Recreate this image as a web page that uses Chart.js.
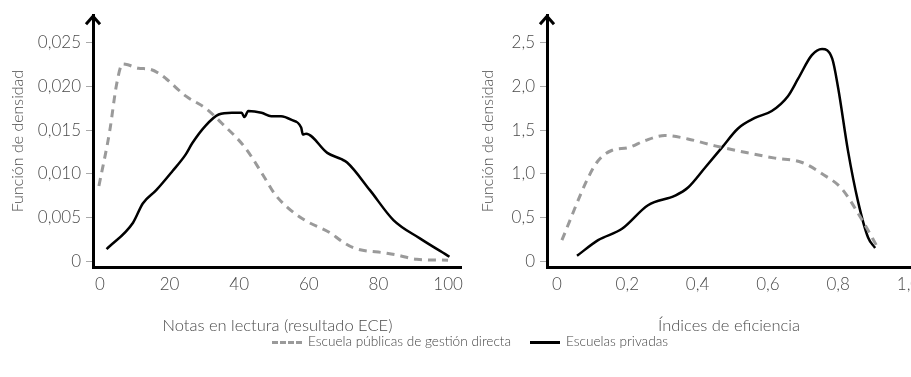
<!DOCTYPE html>
<html>
<head>
<meta charset="utf-8">
<script src="https://cdn.jsdelivr.net/npm/chart.js@4"></script>
<style>
  html, body { margin: 0; padding: 0; background: #fff; overflow: hidden; }
  body { width: 911px; height: 377px; position: relative; font-family: Lato, "Open Sans", sans-serif; font-weight: 300; color: #444; }
  #izq { position: absolute; left: 0; top: 0; }
  #der { position: absolute; left: 470px; top: 0; }
  .leyenda { position: absolute; top: 332px; font-size: 13.6px; line-height: 18px; white-space: nowrap; }
  .muestra { display: inline-block; width: 30px; vertical-align: middle; margin-right: 6px; }
</style>
</head>
<body>
<canvas id="izq" width="470" height="340"></canvas>
<canvas id="der" width="470" height="340"></canvas>
<div class="leyenda" style="left:272px"><span class="muestra" style="border-top:3px dashed #9a9a9a"></span>Escuela públicas de gestión directa</div>
<div class="leyenda" style="left:530px"><span class="muestra" style="border-top:3px solid #000"></span>Escuelas privadas</div>
<script>
'use strict';

// Notas en lectura (resultado ECE)
const lecturaPublicasX = [-0.3, 2.8, 4.8, 6.5, 8, 11, 14.2, 17, 19, 24.7, 30.4, 35, 41.7, 47.4, 50.2, 54, 58.8, 66.3, 69, 73, 82.4, 85.2, 91, 100];
const lecturaPublicasY = [0.0086, 0.0149, 0.0203, 0.0226, 0.0225, 0.0221, 0.0220, 0.0215, 0.0209, 0.0189, 0.0175, 0.0158, 0.0130, 0.0095, 0.0077, 0.0061, 0.0047, 0.0032, 0.0024, 0.0015, 0.0009, 0.0007, 0.0002, 0.0001];
const lecturaPrivadasX = [1.9, 9.5, 12.3, 16.1, 20.8, 24.6, 26.5, 30.3, 34.1, 37.9, 40.7, 41.5, 42.6, 46.4, 49.2, 52, 54.9, 57.8, 58.3, 59.2, 65.3, 69.2, 71, 77.6, 84.3, 91.9, 100.4];
const lecturaPrivadasY = [0.00136, 0.0044, 0.0066, 0.0081, 0.0103, 0.0122, 0.0135, 0.0155, 0.0168, 0.0170, 0.0170, 0.0165, 0.0172, 0.0170, 0.0166, 0.0166, 0.0162, 0.0153, 0.0145, 0.0146, 0.0124, 0.0117, 0.0113, 0.0081, 0.0047, 0.0026, 0.0005];

// Índices de eficiencia
const eficienciaPublicasX = [0.014, 0.088, 0.117, 0.157, 0.203, 0.25, 0.307, 0.372, 0.45, 0.543, 0.62, 0.697, 0.754, 0.81, 0.868, 0.913];
const eficienciaPublicasY = [0.24, 0.95, 1.15, 1.27, 1.30, 1.38, 1.44, 1.40, 1.32, 1.24, 1.18, 1.13, 1.0, 0.83, 0.47, 0.15];
const eficienciaPrivadasX = [0.057, 0.117, 0.185, 0.259, 0.336, 0.372, 0.421, 0.469, 0.515, 0.563, 0.611, 0.657, 0.686, 0.725, 0.754, 0.783, 0.8, 0.828, 0.856, 0.885, 0.905];
const eficienciaPrivadasY = [0.06, 0.24, 0.37, 0.64, 0.75, 0.84, 1.07, 1.30, 1.52, 1.64, 1.72, 1.89, 2.09, 2.36, 2.43, 2.32, 1.98, 1.26, 0.69, 0.27, 0.15];

// marcas de los ejes
const lecturaXTicks = [0, 20, 40, 60, 80, 100];
const lecturaYTicks = [0, 0.005, 0.010, 0.015, 0.020, 0.025];
const eficienciaXTicks = [0, 0.2, 0.4, 0.6, 0.8, 1.0];
const eficienciaYTicks = [0, 0.5, 1.0, 1.5, 2.0, 2.5];

const FUENTE = "Lato, 'Open Sans', sans-serif";
const GRIS_TEXTO = '#4a4a4a';

function puntos(xs, ys) {
  return xs.map((x, i) => ({ x: x, y: ys[i] }));
}

function coma(v, dec) {
  if (v === 0) return '0';
  return v.toFixed(dec).replace('.', ',');
}

// flecha en la punta del eje vertical
const flecha = {
  id: 'flecha',
  afterDraw(chart) {
    const c = chart.ctx;
    const a = chart.chartArea;
    c.save();
    c.strokeStyle = '#000';
    c.lineWidth = 3;
    c.lineJoin = 'miter';
    c.beginPath();
    c.moveTo(a.left - 7, a.top + 9);
    c.lineTo(a.left, a.top + 1);
    c.lineTo(a.left + 7, a.top + 9);
    c.stroke();
    c.restore();
  }
};

function crearGrafico(id, cfg) {
  return new Chart(document.getElementById(id).getContext('2d'), {
    type: 'line',
    data: {
      datasets: [{
        label: 'Escuela públicas de gestión directa',
        data: puntos(cfg.pubX, cfg.pubY),
        borderColor: '#9a9a9a',
        borderWidth: 3,
        borderDash: [8, 6],
        pointRadius: 0,
        cubicInterpolationMode: 'monotone',
        fill: false
      }, {
        label: 'Escuelas privadas',
        data: puntos(cfg.privX, cfg.privY),
        borderColor: '#000',
        borderWidth: 2.5,
        pointRadius: 0,
        cubicInterpolationMode: 'monotone',
        fill: false
      }]
    },
    options: {
      responsive: false,
      animation: false,
      devicePixelRatio: 1,
      layout: { padding: { top: 13, right: cfg.padDer, left: 0, bottom: 0 } },
      plugins: { legend: { display: false }, tooltip: { enabled: false } },
      scales: {
        x: {
          type: 'linear',
          min: cfg.xMin,
          max: cfg.xMax,
          afterBuildTicks: s => { s.ticks = cfg.xTicks.map(v => ({ value: v })); },
          afterFit: s => { s.height = 73; },
          border: { color: '#000', width: 3 },
          grid: { display: false, drawTicks: false },
          ticks: {
            padding: 7,
            color: GRIS_TEXTO,
            font: { family: FUENTE, size: 17, weight: 300 },
            maxRotation: 0,
            callback: v => coma(v, cfg.xDec)
          },
          title: {
            display: true,
            text: cfg.xTitulo,
            color: GRIS_TEXTO,
            font: { family: FUENTE, size: 16.5, weight: 300 },
            padding: { top: 4, bottom: 4 }
          }
        },
        y: {
          min: cfg.yMin,
          max: cfg.yMax,
          afterBuildTicks: s => { s.ticks = cfg.yTicks.map(v => ({ value: v })); },
          afterFit: s => { s.width = cfg.anchoY; },
          border: { color: '#000', width: 3 },
          grid: { drawOnChartArea: false, drawTicks: true, tickLength: 7, color: '#aaa', lineWidth: 1 },
          ticks: {
            padding: 5,
            color: GRIS_TEXTO,
            font: { family: FUENTE, size: 17, weight: 300 },
            callback: v => coma(v, cfg.yDec)
          },
          title: {
            display: true,
            text: 'Función de densidad',
            color: GRIS_TEXTO,
            font: { family: FUENTE, size: 16, weight: 300 },
            padding: { top: 8, bottom: 4 }
          }
        }
      }
    },
    plugins: [flecha]
  });
}

crearGrafico('izq', {
  pubX: lecturaPublicasX, pubY: lecturaPublicasY,
  privX: lecturaPrivadasX, privY: lecturaPrivadasY,
  xTicks: lecturaXTicks, yTicks: lecturaYTicks,
  xMin: -2, xMax: 103.98, yMin: -0.00068, yMax: 0.02818,
  xDec: 0, yDec: 3, anchoY: 93, padDer: 4,
  xTitulo: 'Notas en lectura (resultado ECE)'
});

crearGrafico('der', {
  pubX: eficienciaPublicasX, pubY: eficienciaPublicasY,
  privX: eficienciaPrivadasX, privY: eficienciaPrivadasY,
  xTicks: eficienciaXTicks, yTicks: eficienciaYTicks,
  xMin: -0.0284, xMax: 1.0071, yMin: -0.068, yMax: 2.818,
  xDec: 1, yDec: 1, anchoY: 77, padDer: 29,
  xTitulo: 'Índices de eficiencia'
});
</script>
</body>
</html>
